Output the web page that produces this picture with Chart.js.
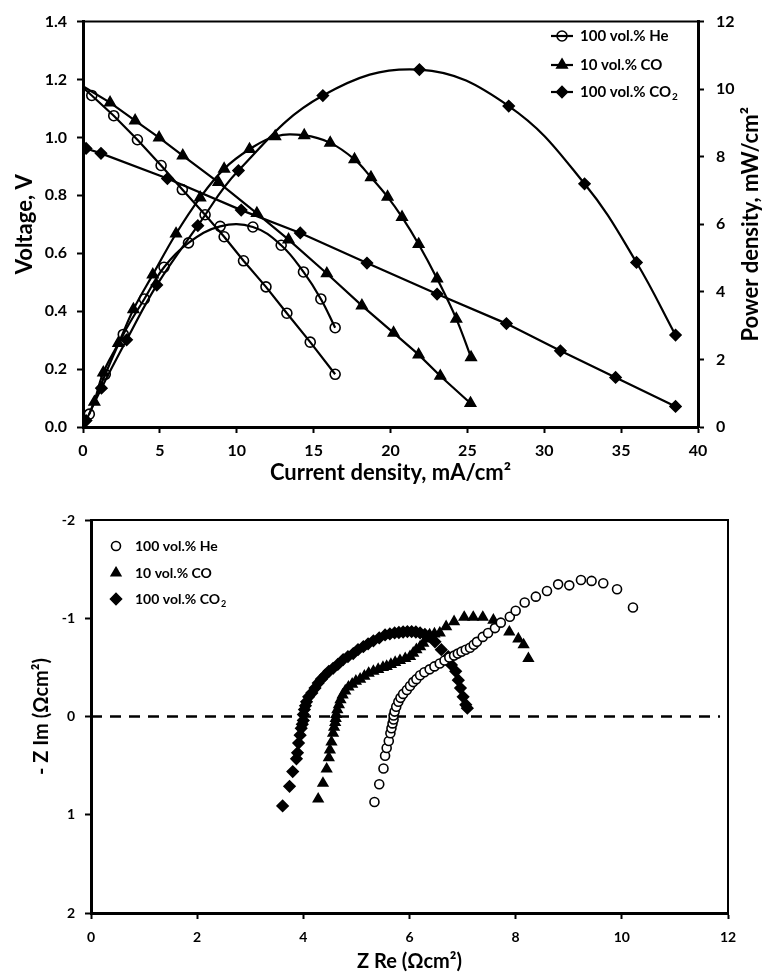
<!DOCTYPE html>
<html>
<head>
<meta charset="utf-8">
<script src="https://cdn.jsdelivr.net/npm/chart.js@4.4.0/dist/chart.umd.min.js"></script>
<style>
  html, body { margin: 0; padding: 0; background: #fff; }
  #box1 { position: absolute; left: 0; top: 0; width: 763px; height: 490px; }
  #box2 { position: absolute; left: 0; top: 490px; width: 763px; height: 486px; }
</style>
</head>
<body>
<div id="box1"><canvas id="pol"></canvas></div>
<div id="box2"><canvas id="eis"></canvas></div>
<script>
// series names (legend)
const seriesNames = ['100 vol.% He', '10 vol.% CO', '100 vol.% CO'];

// polarisation curves: current density (mA/cm2) vs voltage (V)
const heCurV = [0.05, 0.57, 2.0, 3.54, 5.08, 6.46, 7.94, 9.18, 10.44, 11.9, 13.26, 14.78, 16.4];
const heVolt = [1.17, 1.145, 1.075, 0.992, 0.903, 0.82, 0.733, 0.657, 0.574, 0.484, 0.393, 0.293, 0.182];
const coCurV = [0.05, 1.76, 3.39, 4.95, 6.49, 8.81, 11.31, 13.37, 15.86, 18.14, 20.2, 21.83, 23.24, 25.2];
const coVolt = [1.175, 1.12, 1.058, 0.999, 0.937, 0.845, 0.738, 0.647, 0.53, 0.419, 0.325, 0.25, 0.176, 0.082];
const co2CurV = [0.2, 1.17, 5.49, 10.29, 14.13, 18.47, 23.03, 27.54, 31.05, 34.64, 38.54];
const co2Volt = [0.962, 0.945, 0.858, 0.749, 0.67, 0.566, 0.459, 0.357, 0.263, 0.171, 0.071];

// power density (mW/cm2)
const heCurP = [0.41, 1.45, 2.62, 3.99, 5.27, 6.86, 8.92, 11.05, 12.89, 14.34, 15.47, 16.4];
const hePow = [0.38, 1.56, 2.74, 3.79, 4.73, 5.45, 5.94, 5.92, 5.38, 4.59, 3.79, 2.94];
const coCurP = [0.74, 1.32, 2.3, 3.28, 4.54, 6.05, 7.62, 9.18, 10.83, 12.5, 14.39, 16.08, 17.66, 18.73, 19.81, 20.75, 21.83, 23.03, 24.28, 25.24];
const coPow = [0.74, 1.61, 2.48, 3.48, 4.51, 5.72, 6.79, 7.64, 8.22, 8.6, 8.63, 8.41, 7.92, 7.39, 6.81, 6.21, 5.41, 4.39, 3.2, 2.06];
const co2CurP = [0.2, 1.2, 2.84, 4.8, 7.47, 10.11, 15.6, 21.88, 27.69, 32.62, 36.0, 38.54];
const co2Pow = [0.19, 1.15, 2.58, 4.2, 5.96, 7.59, 9.81, 10.58, 9.5, 7.2, 4.87, 2.72];

// impedance spectra: Z re, -Z im (ohm cm2)
const heZre = [5.34, 5.43, 5.51, 5.54, 5.57, 5.61, 5.64, 5.66, 5.68, 5.70,
  5.70, 5.72, 5.75, 5.79, 5.83, 5.88, 5.95, 6.01, 6.07, 6.13, 6.20, 6.28, 6.38, 6.47, 6.57, 6.66, 6.75, 6.84, 6.91, 6.98,
  7.06, 7.14, 7.21, 7.27, 7.38, 7.48, 7.61, 7.72, 7.89, 8.00, 8.17, 8.38, 8.59, 8.80, 9.01, 9.23, 9.43, 9.65, 9.91, 10.21];
const heZim = [0.87, 0.69, 0.53, 0.40, 0.32, 0.25, 0.17, 0.12, 0.07, 0.03,
  -0.01, -0.05, -0.10, -0.15, -0.19, -0.23, -0.27, -0.31, -0.35, -0.38, -0.42, -0.45, -0.48, -0.51, -0.54, -0.57, -0.60, -0.62, -0.64, -0.66,
  -0.68, -0.70, -0.73, -0.76, -0.81, -0.85, -0.90, -0.955, -1.016, -1.077, -1.16, -1.22, -1.277, -1.345, -1.335, -1.39, -1.38, -1.356, -1.295, -1.11];
const coZre = [4.28, 4.37, 4.44, 4.48, 4.50, 4.53, 4.56, 4.58, 4.60, 4.61,
  4.62, 4.64, 4.67, 4.70, 4.74, 4.79, 4.85, 4.92, 4.99, 5.07, 5.15, 5.23, 5.32, 5.41, 5.50, 5.57, 5.65, 5.73, 5.82, 5.92,
  6.01, 6.07, 6.13, 6.20, 6.26, 6.32, 6.38, 6.47, 6.57, 6.69, 6.84, 7.03, 7.20, 7.38, 7.58, 7.88, 8.05, 8.15, 8.24];
const coZim = [0.84, 0.68, 0.535, 0.42, 0.34, 0.26, 0.17, 0.11, 0.06, 0.02,
  -0.02, -0.07, -0.12, -0.17, -0.22, -0.26, -0.30, -0.33, -0.36, -0.38, -0.41, -0.44, -0.46, -0.48, -0.50, -0.51, -0.53, -0.55, -0.57, -0.59,
  -0.61, -0.645, -0.68, -0.71, -0.745, -0.79, -0.83, -0.84, -0.85, -0.915, -0.965, -1.01, -1.01, -1.01, -0.98, -0.86, -0.79, -0.73, -0.59];
const co2Zre = [3.61, 3.74, 3.80, 3.87, 3.89, 3.91, 3.94, 3.96, 3.98, 4.00,
  4.00, 4.02, 4.04, 4.06, 4.10, 4.16, 4.22, 4.28, 4.34, 4.41, 4.48, 4.56, 4.65, 4.75, 4.84, 4.94, 5.03, 5.13, 5.22, 5.32,
  5.43, 5.54, 5.63, 5.72, 5.80, 5.88, 5.96, 6.04, 6.12, 6.20, 6.29, 6.37, 6.48, 6.60, 6.73, 6.79, 6.87, 6.92, 6.96, 7.01, 7.06, 7.09];
const co2Zim = [0.91, 0.71, 0.56, 0.43, 0.37, 0.27, 0.19, 0.12, 0.08, 0.04,
  -0.02, -0.07, -0.11, -0.15, -0.20, -0.24, -0.29, -0.34, -0.38, -0.42, -0.46, -0.49, -0.53, -0.58, -0.61, -0.64, -0.68, -0.71, -0.74, -0.77,
  -0.80, -0.83, -0.84, -0.85, -0.855, -0.86, -0.865, -0.865, -0.86, -0.85, -0.835, -0.82, -0.76, -0.68, -0.61, -0.525, -0.46, -0.37, -0.29, -0.20, -0.12, -0.085];
const zeroLineX = [0, 11.85];

const FONT = "Lato, 'Liberation Sans', sans-serif";
const pts = (xs, ys) => xs.map((x, i) => ({ x: x, y: ys[i] }));

Chart.defaults.font.family = FONT;
Chart.defaults.font.weight = 'bold';
Chart.defaults.color = '#000';

const marker = [
  { pointStyle: 'circle', radius: 5, fill: 'rgba(0,0,0,0)' },
  { pointStyle: 'triangle', radius: 6, fill: '#000' },
  { pointStyle: 'rectRot', radius: 5.5, fill: '#000' }
];

function lineSet(data, m, axis, tension, hideFirst) {
  return {
    data: data,
    yAxisID: axis,
    showLine: true,
    borderColor: '#000',
    borderWidth: 2.2,
    tension: tension,
    pointStyle: m.pointStyle,
    pointRadius: data.map((d, i) => (hideFirst && i === 0) ? 0 : m.radius),
    pointBackgroundColor: m.fill,
    pointBorderColor: '#000',
    pointBorderWidth: 1.6
  };
}

function axisStyle(extra) {
  return Object.assign({
    grid: { drawOnChartArea: false, color: '#000', tickLength: 6, tickWidth: 2 },
    border: { color: '#000', width: 3 }
  }, extra);
}

// legend + frame drawn by hand
function drawName(ctx, text, sub, x, y, size) {
  ctx.font = 'bold ' + size + 'px ' + FONT;
  ctx.textBaseline = 'middle';
  ctx.textAlign = 'left';
  ctx.fillText(text, x, y);
  if (sub) {
    const w = ctx.measureText(text).width;
    ctx.font = 'bold ' + Math.round(size * 0.65) + 'px ' + FONT;
    ctx.fillText(sub, x + w + 1, y + 5);
  }
}

const polFrame = {
  id: 'polFrame',
  afterDraw(chart) {
    const ctx = chart.ctx, a = chart.chartArea;
    ctx.save();
    ctx.strokeStyle = '#000';
    ctx.fillStyle = '#000';
    ctx.lineWidth = 2;
    ctx.beginPath();
    ctx.moveTo(a.left, a.top);
    ctx.lineTo(a.right, a.top);
    ctx.stroke();

    // right axis title, reading upwards
    ctx.save();
    ctx.translate(751, (a.top + a.bottom) / 2);
    ctx.rotate(-Math.PI / 2);
    ctx.font = 'bold 22px ' + FONT;
    ctx.textAlign = 'center';
    ctx.textBaseline = 'middle';
    ctx.fillText('Power density, mW/cm²', 0, 0);
    ctx.restore();

    const rows = [36, 65, 92];
    seriesNames.forEach((name, i) => {
      const y = rows[i];
      ctx.lineWidth = 2.2;
      ctx.beginPath();
      ctx.moveTo(551, y);
      ctx.lineTo(573, y);
      ctx.stroke();
      ctx.lineWidth = 1.6;
      ctx.fillStyle = marker[i].fill;
      Chart.helpers.drawPoint(ctx, { pointStyle: marker[i].pointStyle, radius: marker[i].radius, borderWidth: 1.6, rotation: 0 }, 562, y);
      ctx.fillStyle = '#000';
      drawName(ctx, name, i === 2 ? '2' : '', 580, y, 15);
    });
    ctx.restore();
  }
};

new Chart(document.getElementById('pol'), {
  type: 'scatter',
  data: {
    datasets: [
      lineSet(pts(heCurV, heVolt), marker[0], 'y', 0, true),
      lineSet(pts(heCurP, hePow), marker[0], 'y1', 0.4, false),
      lineSet(pts(coCurV, coVolt), marker[1], 'y', 0, true),
      lineSet(pts(coCurP, coPow), marker[1], 'y1', 0.4, false),
      lineSet(pts(co2CurV, co2Volt), marker[2], 'y', 0, false),
      lineSet(pts(co2CurP, co2Pow), marker[2], 'y1', 0.4, false)
    ]
  },
  options: {
    responsive: true,
    maintainAspectRatio: false,
    animation: false,
    devicePixelRatio: 1,
    layout: { padding: { top: 14, left: 0, right: 0, bottom: 0 } },
    plugins: { legend: { display: false }, tooltip: { enabled: false } },
    scales: {
      x: axisStyle({
        type: 'linear', position: 'bottom', min: 0, max: 40,
        ticks: { stepSize: 5, padding: 8, font: { size: 16, weight: 'bold' } },
        title: { display: true, text: 'Current density, mA/cm²', font: { size: 22, weight: 'bold' }, padding: { top: 0, bottom: 4 } },
        afterFit(s) { s.height = 63; }
      }),
      y: axisStyle({
        position: 'left', min: 0, max: 1.4,
        ticks: { stepSize: 0.2, padding: 10, font: { size: 16, weight: 'bold' }, callback: v => v.toFixed(1) },
        title: { display: true, text: 'Voltage, V', font: { size: 22, weight: 'bold' }, padding: { top: 12, bottom: 0 } },
        afterFit(s) { s.width = 83; }
      }),
      y1: axisStyle({
        position: 'right', min: 0, max: 12,
        ticks: { stepSize: 2, padding: 12, font: { size: 16, weight: 'bold' } },
        afterFit(s) { s.width = 65; }
      })
    }
  },
  plugins: [polFrame]
});

const eisFrame = {
  id: 'eisFrame',
  afterDraw(chart) {
    const ctx = chart.ctx, a = chart.chartArea;
    ctx.save();
    ctx.strokeStyle = '#000';
    ctx.fillStyle = '#000';
    ctx.lineWidth = 2;
    ctx.beginPath();
    ctx.moveTo(a.left, a.top);
    ctx.lineTo(a.right, a.top);
    ctx.lineTo(a.right, a.bottom);
    ctx.stroke();

    const rows = [56, 83, 109];
    const m = [
      { pointStyle: 'circle', radius: 4.5, fill: '#fff' },
      { pointStyle: 'triangle', radius: 5.5, fill: '#000' },
      { pointStyle: 'rectRot', radius: 5.5, fill: '#000' }
    ];
    seriesNames.forEach((name, i) => {
      ctx.lineWidth = 1.6;
      ctx.fillStyle = m[i].fill;
      Chart.helpers.drawPoint(ctx, { pointStyle: m[i].pointStyle, radius: m[i].radius, borderWidth: 1.6, rotation: 0 }, 116, rows[i]);
      ctx.fillStyle = '#000';
      drawName(ctx, name, i === 2 ? '2' : '', 135, rows[i], 14);
    });
    ctx.restore();
  }
};

function dotSet(data, style, radius, fill) {
  return {
    data: data,
    pointStyle: style,
    pointRadius: radius,
    pointBackgroundColor: fill,
    pointBorderColor: '#000',
    pointBorderWidth: 1.6
  };
}

new Chart(document.getElementById('eis'), {
  type: 'scatter',
  data: {
    datasets: [
      dotSet(pts(heZre, heZim), 'circle', 4.5, '#fff'),
      dotSet(pts(coZre, coZim), 'triangle', 5.5, '#000'),
      dotSet(pts(co2Zre, co2Zim), 'rectRot', 5.5, '#000'),
      {
        data: pts(zeroLineX, [0, 0]),
        showLine: true,
        borderColor: '#000',
        borderWidth: 2.5,
        borderDash: [11, 8],
        pointRadius: 0
      }
    ]
  },
  options: {
    responsive: true,
    maintainAspectRatio: false,
    animation: false,
    devicePixelRatio: 1,
    layout: { padding: { top: 30, left: 0, right: 35, bottom: 0 } },
    plugins: { legend: { display: false }, tooltip: { enabled: false } },
    scales: {
      x: axisStyle({
        type: 'linear', position: 'bottom', min: 0, max: 12,
        ticks: { stepSize: 2, padding: 10, font: { size: 14, weight: 'bold' } },
        title: { display: true, text: 'Z Re (Ωcm²)', font: { size: 20, weight: 'bold' }, padding: { top: 0, bottom: 2 } },
        afterFit(s) { s.height = 63; }
      }),
      y: axisStyle({
        position: 'left', min: -2, max: 2, reverse: true,
        ticks: { stepSize: 1, padding: 10, font: { size: 14, weight: 'bold' } },
        title: { display: true, text: '- Z Im (Ωcm²)', font: { size: 20, weight: 'bold' }, padding: { top: 30, bottom: 0 } },
        afterFit(s) { s.width = 91; }
      })
    }
  },
  plugins: [eisFrame]
});
</script>
</body>
</html>
